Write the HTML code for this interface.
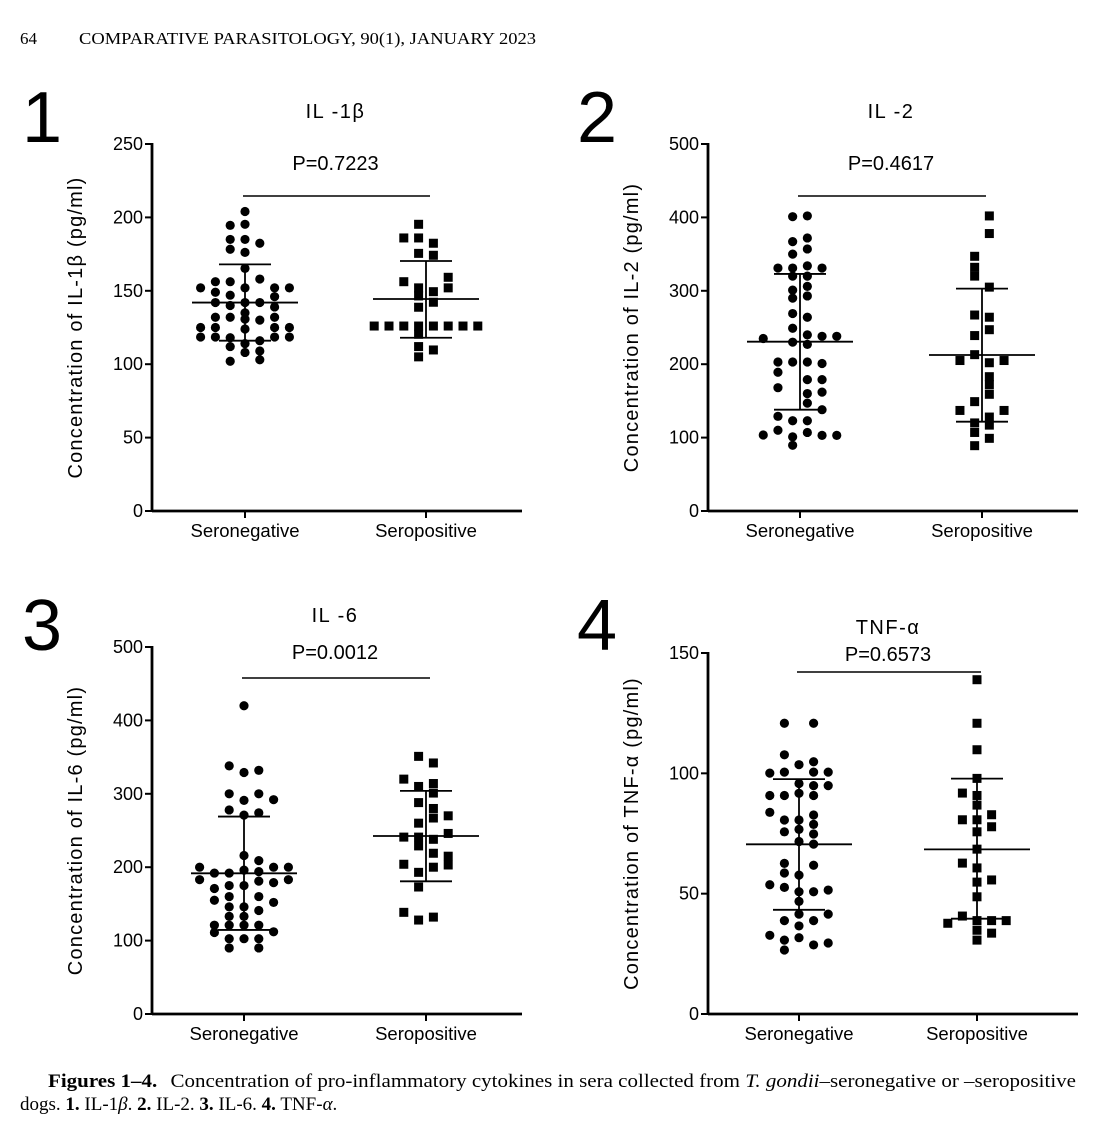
<!DOCTYPE html>
<html><head><meta charset="utf-8">
<style>
body{margin:0;background:#fff;width:1114px;height:1138px;overflow:hidden}
svg{display:block}
.ax{font-family:"Liberation Sans",sans-serif}
</style></head>
<body>
<svg id="fig" width="1114" height="1138" xmlns="http://www.w3.org/2000/svg">
<text x="20" y="44" font-family="Liberation Serif,serif" font-size="17">64</text>
<text x="79" y="44" font-family="Liberation Serif,serif" font-size="17" textLength="457" lengthAdjust="spacingAndGlyphs">COMPARATIVE PARASITOLOGY, 90(1), JANUARY 2023</text>
<text x="48" y="1087" font-family="Liberation Serif,serif" font-size="19" textLength="1028" lengthAdjust="spacingAndGlyphs"><tspan font-weight="bold">Figures 1–4.</tspan><tspan dx="12">Concentration of pro-inflammatory cytokines in sera collected from </tspan><tspan font-style="italic">T. gondii</tspan><tspan>–seronegative or –seropositive</tspan></text>
<text x="20" y="1110" font-family="Liberation Serif,serif" font-size="19">dogs. <tspan font-weight="bold">1.</tspan> IL-1<tspan font-style="italic">β</tspan>. <tspan font-weight="bold">2.</tspan> IL-2. <tspan font-weight="bold">3.</tspan> IL-6. <tspan font-weight="bold">4.</tspan> TNF-<tspan font-style="italic">α</tspan>.</text>
</svg>
<script>
const categories = ["Seronegative","Seropositive"];
// Panel 1 IL-1β
const p1NegValues=[204,194.6,195.3,185,185,182.4,178.3,176.2,165.3,156.2,156.2,158,152,152,152,152,149,147,146,142,142,142,140,139,135,132,132,132,130,130.7,125,125,125,125,124,118.5,118.5,118.5,118.5,118,116,114,112,108,109,102,103];
const p1NegSlots=[0,-1,0,-1,0,1,-1,0,0,-2,-1,1,-3,0,2,3,-2,-1,2,-2,0,1,-1,2,0,-2,-1,2,1,0,-3,-2,2,3,0,-3,-2,2,3,-1,1,0,-1,0,1,-1,1];
const p1PosValues=[195.3,186,186,182.4,175.5,174.2,156.2,159.2,152,152,149.4,146.5,142.2,138.8,126,126,126,126,126,126,126,126,120.4,112,109.7,105];
const p1PosSlots=[-0.5,-1.5,-0.5,0.5,-0.5,0.5,-1.5,1.5,-0.5,1.5,0.5,-0.5,0.5,-0.5,-3.5,-2.5,-1.5,-0.5,0.5,1.5,2.5,3.5,-0.5,-0.5,0.5,-0.5];
const p1Mean=[142,144.4], p1Hi=[168,170.3], p1Lo=[116,118];
// Panel 2 IL-2
const p2NegValues=[401,402,372,367,357,350,331,331,331,334,320,320,306,301,290,293,269,264,249,235,240,238,238,230,227,203,203,203,201,189,179,179,168,160,162,147,138,129,123,123,103.5,110,101,107,103,103,89.5];
const p2NegSlots=[-0.5,0.5,0.5,-0.5,0.5,-0.5,-1.5,-0.5,1.5,0.5,-0.5,0.5,0.5,-0.5,-0.5,0.5,-0.5,0.5,-0.5,-2.5,0.5,1.5,2.5,-0.5,0.5,-1.5,-0.5,0.5,1.5,-1.5,0.5,1.5,-1.5,0.5,1.5,0.5,1.5,-1.5,-0.5,0.5,-2.5,-1.5,-0.5,0.5,1.5,2.5,-0.5];
const p2PosValues=[402,378,347,332,320,305,267,264,247,239,213,205,205,202,183,172,159,149,137,137,128,120,117,107,99,89];
const p2PosSlots=[0.5,0.5,-0.5,-0.5,-0.5,0.5,-0.5,0.5,0.5,-0.5,-0.5,-1.5,1.5,0.5,0.5,0.5,0.5,-0.5,-1.5,1.5,0.5,-0.5,0.5,-0.5,0.5,-0.5];
const p2Mean=[230.7,212.5], p2Hi=[323,303], p2Lo=[138,121.7];
// Panel 3 IL-6
const p3NegValues=[420,338,329,332,300,300,291,292,278,274,271,216,209,200,200,200,196,192,192,194,183,183,181,179,175,175,171,160,160,155,152,146,146,141,133,133,121,121,121,121,112,111,102.6,102.6,102.6,90,90];
const p3NegSlots=[0,-1,0,1,-1,1,0,2,-1,1,0,0,1,-3,2,3,0,-2,-1,1,-3,3,1,2,-1,0,-2,-1,1,-2,2,-1,0,1,-1,0,-2,-1,0,1,2,-2,-1,0,1,-1,1];
const p3PosValues=[351,342,320,310,314,301,288,280,267,270,260,241,246,241,238,229,219,215,203,204,200,193,173,138.5,128,132];
const p3PosSlots=[-0.5,0.5,-1.5,-0.5,0.5,0.5,-0.5,0.5,0.5,1.5,-0.5,-1.5,1.5,-0.5,0.5,-0.5,0.5,1.5,1.5,-1.5,0.5,-0.5,-0.5,-1.5,-0.5,0.5];
const p3Mean=[191.7,242.5], p3Hi=[269,304], p3Lo=[114.5,180.8];
// Panel 4 TNF-α
const p4NegValues=[120.8,120.8,107.7,103.6,104.8,100.1,100.5,100.5,100.5,95.8,94.9,94.9,90.8,90.8,90.8,91.7,83.8,80.6,80.6,82.7,78.8,76.7,75.7,74.8,71.7,70.6,62.6,61.8,58.6,57.7,53.7,52.6,50.8,50.8,51.5,46.8,41.5,41.5,38.8,38.8,36.6,32.7,30.7,31.7,28.7,29.5,26.6];
const p4NegSlots=[-1,1,-1,0,1,-2,-1,1,2,0,1,2,-2,-1,1,0,-2,-1,0,1,1,0,-1,1,0,1,-1,1,-1,0,-2,-1,0,1,2,0,0,2,-1,1,0,-2,-1,0,1,2,-1];
const p4PosValues=[138.9,120.8,109.8,97.9,91.8,90.8,86.8,80.7,80.7,82.8,77.8,75.7,68.5,62.7,60.7,55.7,54.8,48.7,40.7,37.7,38.8,38.8,38.8,34.8,33.6,30.7];
const p4PosSlots=[0,0,0,0,-1,0,0,-1,0,1,1,0,0,-1,0,1,0,0,-1,-2,0,1,2,0,1,0];
const p4Mean=[70.5,68.4], p4Hi=[97.6,97.8], p4Lo=[43.3,39.6];

const yTicks1=[0,50,100,150,200,250], yTicks2=[0,100,200,300,400,500], yTicks4=[0,50,100,150];

const NS="http://www.w3.org/2000/svg", svg=document.getElementById('fig');
function mk(tag,attrs,parent){const e=document.createElementNS(NS,tag);for(const k in attrs)e.setAttribute(k,attrs[k]);(parent||svg).appendChild(e);return e;}

const panels=[
 {num:"1",numX:22,numY:142,ax:152,top:144,bot:511,max:250,ticks:yTicks1,cx:[245,426],sp:14.8,title:"IL -1β",titleY:118,pY:170,p:"P=0.7223",lineY:196,ylab:"Concentration of IL-1β (pg/ml)",neg:[p1NegValues,p1NegSlots],pos:[p1PosValues,p1PosSlots],mean:p1Mean,hi:p1Hi,lo:p1Lo},
 {num:"2",numX:577,numY:142,ax:708,top:144,bot:511,max:500,ticks:yTicks2,cx:[800,982],sp:14.7,title:"IL -2",titleY:118,pY:170,p:"P=0.4617",lineY:196,ylab:"Concentration of IL-2 (pg/ml)",neg:[p2NegValues,p2NegSlots],pos:[p2PosValues,p2PosSlots],mean:p2Mean,hi:p2Hi,lo:p2Lo},
 {num:"3",numX:22,numY:650,ax:152,top:647,bot:1014,max:500,ticks:yTicks2,cx:[244,426],sp:14.8,title:"IL -6",titleY:622,pY:659,p:"P=0.0012",lineY:678,ylab:"Concentration of IL-6 (pg/ml)",neg:[p3NegValues,p3NegSlots],pos:[p3PosValues,p3PosSlots],mean:p3Mean,hi:p3Hi,lo:p3Lo},
 {num:"4",numX:577,numY:650,ax:708,top:653,bot:1014,max:150,ticks:yTicks4,cx:[799,977],sp:14.6,title:"TNF-α",titleY:634,pY:661,p:"P=0.6573",lineY:672,ylab:"Concentration of TNF-α (pg/ml)",neg:[p4NegValues,p4NegSlots],pos:[p4PosValues,p4PosSlots],mean:p4Mean,hi:p4Hi,lo:p4Lo}
];

panels.forEach((P,i)=>{
  const g=mk('g',{class:'ax'});
  
  
  const y=v=>P.bot-(v/P.max)*(P.bot-P.top);
  let t=mk('text',{x:P.numX,y:P.numY,'font-size':72,'font-family':'Liberation Sans,sans-serif'},g);t.textContent=P.num;
  
  t=mk('text',{x:(P.cx[0]+P.cx[1])/2,y:P.titleY,'font-size':20,'text-anchor':'middle','letter-spacing':'1.5'},g);t.textContent=P.title;
  
  t=mk('text',{x:(P.cx[0]+P.cx[1])/2,y:P.pY,'font-size':20,'text-anchor':'middle'},g);t.textContent=P.p;
  
  let l=mk('line',{x1:P.cx[0]-2,x2:P.cx[1]+4,y1:P.lineY,y2:P.lineY,stroke:'#000','stroke-width':1.6},g);
  
  l=mk('line',{x1:P.ax,x2:P.ax,y1:P.top-1,y2:P.bot+1,stroke:'#000','stroke-width':2.8},g);
  
  l=mk('line',{x1:P.ax,x2:P.ax+370,y1:P.bot,y2:P.bot,stroke:'#000','stroke-width':2.8},g);
  
  P.ticks.forEach(v=>{
    const tk=mk('line',{x1:P.ax-7,x2:P.ax,y1:y(v),y2:y(v),stroke:'#000','stroke-width':2},g);
    
    const tl=mk('text',{x:P.ax-9,y:y(v)+6,'font-size':18,'text-anchor':'end'},g);tl.textContent=v;
    
  });
  categories.forEach((c,k)=>{
    const tk=mk('line',{x1:P.cx[k],x2:P.cx[k],y1:P.bot,y2:P.bot+7,stroke:'#000','stroke-width':2},g);
    
    const tl=mk('text',{x:P.cx[k],y:P.bot+26,'font-size':18.5,'text-anchor':'middle'},g);tl.textContent=c;
    
  });
  const ym=(P.top+P.bot)/2;
  t=mk('text',{x:0,y:0,'font-size':20,'text-anchor':'middle','letter-spacing':'1.2',transform:`translate(${P.ax-70},${ym}) rotate(-90)`},g);t.textContent=P.ylab;
  
  P.neg[0].forEach((v,j)=>{
    const c=mk('circle',{cx:P.cx[0]+P.neg[1][j]*P.sp,cy:y(v),r:4.6,fill:'#000'},g);
    
  });
  P.pos[0].forEach((v,j)=>{
    const s=mk('rect',{x:P.cx[1]+P.pos[1][j]*P.sp-4.5,y:y(v)-4.5,width:9,height:9,fill:'#000'},g);
    
  });
  [0,1].forEach(k=>{
    const x=P.cx[k];
    const a=mk('line',{x1:x-53,x2:x+53,y1:y(P.mean[k]),y2:y(P.mean[k]),stroke:'#000','stroke-width':1.8},g);
    
    const b=mk('line',{x1:x,x2:x,y1:y(P.hi[k]),y2:y(P.lo[k]),stroke:'#000','stroke-width':1.8},g);
    
    [P.hi[k],P.lo[k]].forEach(v=>{
      const cp=mk('line',{x1:x-26,x2:x+26,y1:y(v),y2:y(v),stroke:'#000','stroke-width':1.8},g);
      
    });
  });
});
</script>
</body></html>
